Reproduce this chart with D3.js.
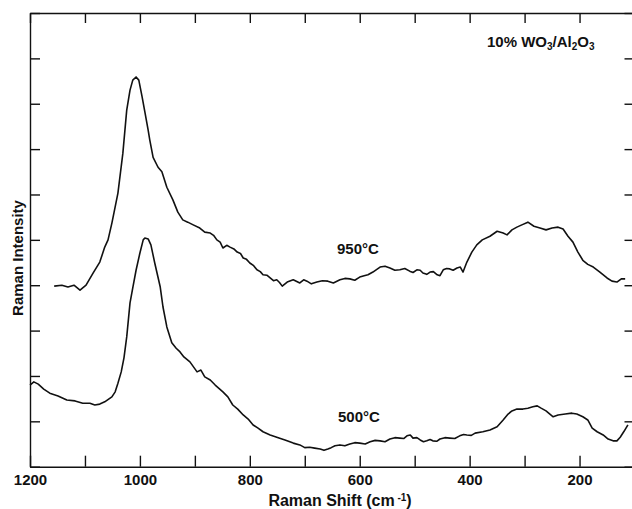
<!DOCTYPE html>
<html>
<head>
<meta charset="utf-8">
<script src="https://d3js.org/d3.v7.min.js"></script>
<style>
    html, body { margin: 0; padding: 0; background: white; }
    svg { display: block; }
    text { font-family: "Liberation Sans", Arial, sans-serif; font-weight: bold; fill: #111; }
    .axis path, .axis line { stroke: #111; stroke-width: 1.4; }
    .trace { fill: none; stroke: #111; stroke-width: 1.6; stroke-linejoin: round; }
</style>
</head>
<body>
<svg id="chart" width="632" height="509"></svg>
<script>
// Raman shift (cm-1) and intensity
var shift950 = [1156, 1142, 1131, 1120, 1109, 1098, 1085, 1073, 1064, 1058, 1051, 1040, 1031, 1024, 1018, 1013,
    1007, 1002, 996, 991, 985, 982, 976, 967, 960, 951, 940, 931, 922, 913, 903, 891, 882, 872, 866, 860, 854,
    849, 842, 836, 829, 823, 817, 812, 806, 800, 793, 787, 781, 776, 769, 763, 757, 751, 746, 741, 732, 721,
    709, 702, 696, 688, 678, 668, 658, 648, 636, 627, 618, 609, 600, 592, 585, 576, 563, 554, 545, 536, 527,
    518, 509, 503, 496, 490, 485, 478, 472, 466, 459, 454, 448, 442, 436, 430, 423, 417, 412, 405, 396, 387,
    377, 363, 350, 339, 332, 323, 314, 305, 294, 283, 272, 261, 250, 239, 230, 221, 212, 203, 194, 185, 175,
    163, 150, 141, 132, 124, 117];
var int950 = [3.98, 4.00, 3.96, 4.00, 3.89, 4.00, 4.27, 4.51, 4.84, 5.00, 5.37, 6.03, 6.91, 7.86, 8.30, 8.52,
    8.59, 8.52, 8.15, 7.82, 7.42, 7.20, 6.82, 6.60, 6.50, 6.16, 5.88, 5.61, 5.44, 5.39, 5.33, 5.26, 5.17, 5.15,
    5.10, 5.00, 4.95, 4.82, 4.88, 4.84, 4.80, 4.73, 4.70, 4.60, 4.57, 4.49, 4.43, 4.34, 4.30, 4.23, 4.22, 4.16,
    4.10, 4.12, 4.06, 3.98, 4.07, 4.12, 4.05, 4.12, 4.09, 4.03, 4.07, 4.10, 4.09, 4.05, 4.12, 4.15, 4.14, 4.11,
    4.18, 4.21, 4.23, 4.29, 4.40, 4.42, 4.38, 4.33, 4.34, 4.37, 4.31, 4.28, 4.34, 4.33, 4.27, 4.24, 4.29, 4.30,
    4.23, 4.21, 4.34, 4.37, 4.36, 4.33, 4.38, 4.40, 4.29, 4.51, 4.73, 4.89, 5.00, 5.08, 5.19, 5.15, 5.11, 5.22,
    5.28, 5.33, 5.39, 5.30, 5.26, 5.22, 5.26, 5.28, 5.24, 5.08, 4.95, 4.73, 4.55, 4.46, 4.40, 4.29, 4.16, 4.09,
    4.07, 4.14, 4.14];

var shift500 = [1200, 1193, 1185, 1175, 1164, 1149, 1133, 1118, 1104, 1091, 1082, 1073, 1064, 1051, 1045, 1040,
    1034, 1029, 1024, 1018, 1013, 1007, 1000, 994, 991, 985, 980, 973, 963, 958, 951, 942, 934, 927, 920, 909,
    896, 889, 882, 872, 863, 849, 840, 831, 822, 812, 803, 794, 785, 776, 763, 751, 736, 721, 709, 700, 691,
    682, 672, 665, 658, 652, 645, 636, 627, 618, 609, 600, 590, 581, 572, 563, 554, 545, 536, 527, 520, 514,
    508, 503, 496, 490, 484, 478, 472, 467, 460, 454, 445, 436, 427, 418, 411, 405, 397, 390, 376, 363, 350,
    339, 330, 323, 314, 303, 294, 285, 277, 270, 261, 254, 248, 239, 226, 214, 205, 194, 185, 177, 168, 157,
    148, 139, 132, 126, 119, 112];
var int500 = [1.80, 1.87, 1.82, 1.71, 1.62, 1.56, 1.47, 1.45, 1.40, 1.40, 1.36, 1.38, 1.43, 1.54, 1.65, 1.84,
    2.09, 2.40, 2.86, 3.61, 3.94, 4.33, 4.71, 5.00, 5.04, 5.02, 4.89, 4.49, 3.96, 3.52, 3.08, 2.73, 2.61, 2.53,
    2.42, 2.31, 2.09, 2.13, 1.98, 1.91, 1.80, 1.65, 1.54, 1.36, 1.27, 1.14, 1.05, 0.92, 0.85, 0.77, 0.70, 0.65,
    0.59, 0.52, 0.48, 0.42, 0.43, 0.41, 0.39, 0.36, 0.39, 0.42, 0.46, 0.48, 0.46, 0.50, 0.53, 0.52, 0.50, 0.55,
    0.58, 0.57, 0.55, 0.61, 0.64, 0.63, 0.62, 0.68, 0.70, 0.63, 0.64, 0.59, 0.55, 0.57, 0.60, 0.57, 0.56, 0.61,
    0.64, 0.63, 0.62, 0.68, 0.71, 0.70, 0.69, 0.74, 0.77, 0.81, 0.88, 1.03, 1.16, 1.23, 1.27, 1.27, 1.29, 1.32,
    1.34, 1.29, 1.23, 1.16, 1.10, 1.14, 1.16, 1.18, 1.16, 1.10, 1.03, 0.85, 0.77, 0.70, 0.61, 0.57, 0.57, 0.65,
    0.78, 0.92];

var xTicks = [1200, 1100, 1000, 900, 800, 700, 600, 500, 400, 300, 200];
var xLabels = [1200, 1000, 800, 600, 400, 200];
var yTicks = [0, 1, 2, 3, 4, 5, 6, 7, 8, 9, 10];

var svg = d3.select("#chart");

var plotLeft = 30, plotRight = 634.5, plotTop = 13, plotBottom = 466.7;

var x = d3.scaleLinear().domain([1200, 100]).range([plotLeft, plotRight]);
var y = d3.scaleLinear().domain([0, 10]).range([plotBottom, plotTop]);

// frame with inward ticks on all four sides
svg.append("g").attr("class", "axis")
    .attr("transform", "translate(0," + plotBottom + ")")
    .call(d3.axisBottom(x).tickValues(xTicks).tickSizeInner(-11).tickSizeOuter(0).tickPadding(8)
        .tickFormat(function (d) { return xLabels.indexOf(d) >= 0 ? d : ""; }))
    .selectAll("text").style("font-size", "15px");

svg.append("g").attr("class", "axis")
    .attr("transform", "translate(0," + plotTop + ")")
    .call(d3.axisTop(x).tickValues(xTicks).tickSizeInner(-10).tickSizeOuter(0).tickFormat(""));

svg.append("g").attr("class", "axis")
    .attr("transform", "translate(" + plotLeft + ",0)")
    .call(d3.axisLeft(y).tickValues(yTicks).tickSizeInner(-10).tickSizeOuter(0).tickFormat(""));

svg.append("g").attr("class", "axis")
    .attr("transform", "translate(" + plotRight + ",0)")
    .call(d3.axisRight(y).tickValues(yTicks).tickSizeInner(-10).tickSizeOuter(0).tickFormat(""));

// spectra
var line = d3.line()
    .x(function (d) { return x(d[0]); })
    .y(function (d) { return y(d[1]); });

svg.append("path").attr("class", "trace")
    .attr("d", line(d3.zip(shift950, int950)));
svg.append("path").attr("class", "trace")
    .attr("d", line(d3.zip(shift500, int500)));

// labels
svg.append("text").attr("x", 337).attr("y", 254).style("font-size", "15px").text("950\u00b0C");
svg.append("text").attr("x", 338).attr("y", 422).style("font-size", "15px").text("500\u00b0C");

var title = svg.append("text").attr("x", 487).attr("y", 47).style("font-size", "15px");
title.append("tspan").text("10%  WO");
title.append("tspan").attr("dy", 3).style("font-size", "10px").text("3");
title.append("tspan").attr("dy", -3).text("/Al");
title.append("tspan").attr("dy", 3).style("font-size", "10px").text("2");
title.append("tspan").attr("dy", -3).text("O");
title.append("tspan").attr("dy", 3).style("font-size", "10px").text("3");

var xt = svg.append("text").attr("x", 340).attr("y", 506)
    .attr("text-anchor", "middle").style("font-size", "16px");
xt.append("tspan").text("Raman Shift (cm");
xt.append("tspan").attr("dy", -5).style("font-size", "10px").text(" -1");
xt.append("tspan").attr("dy", 5).text(")");

svg.append("text")
    .attr("transform", "translate(23,258) rotate(-90)")
    .attr("text-anchor", "middle").style("font-size", "15px")
    .text("Raman Intensity");
</script>
</body>
</html>
